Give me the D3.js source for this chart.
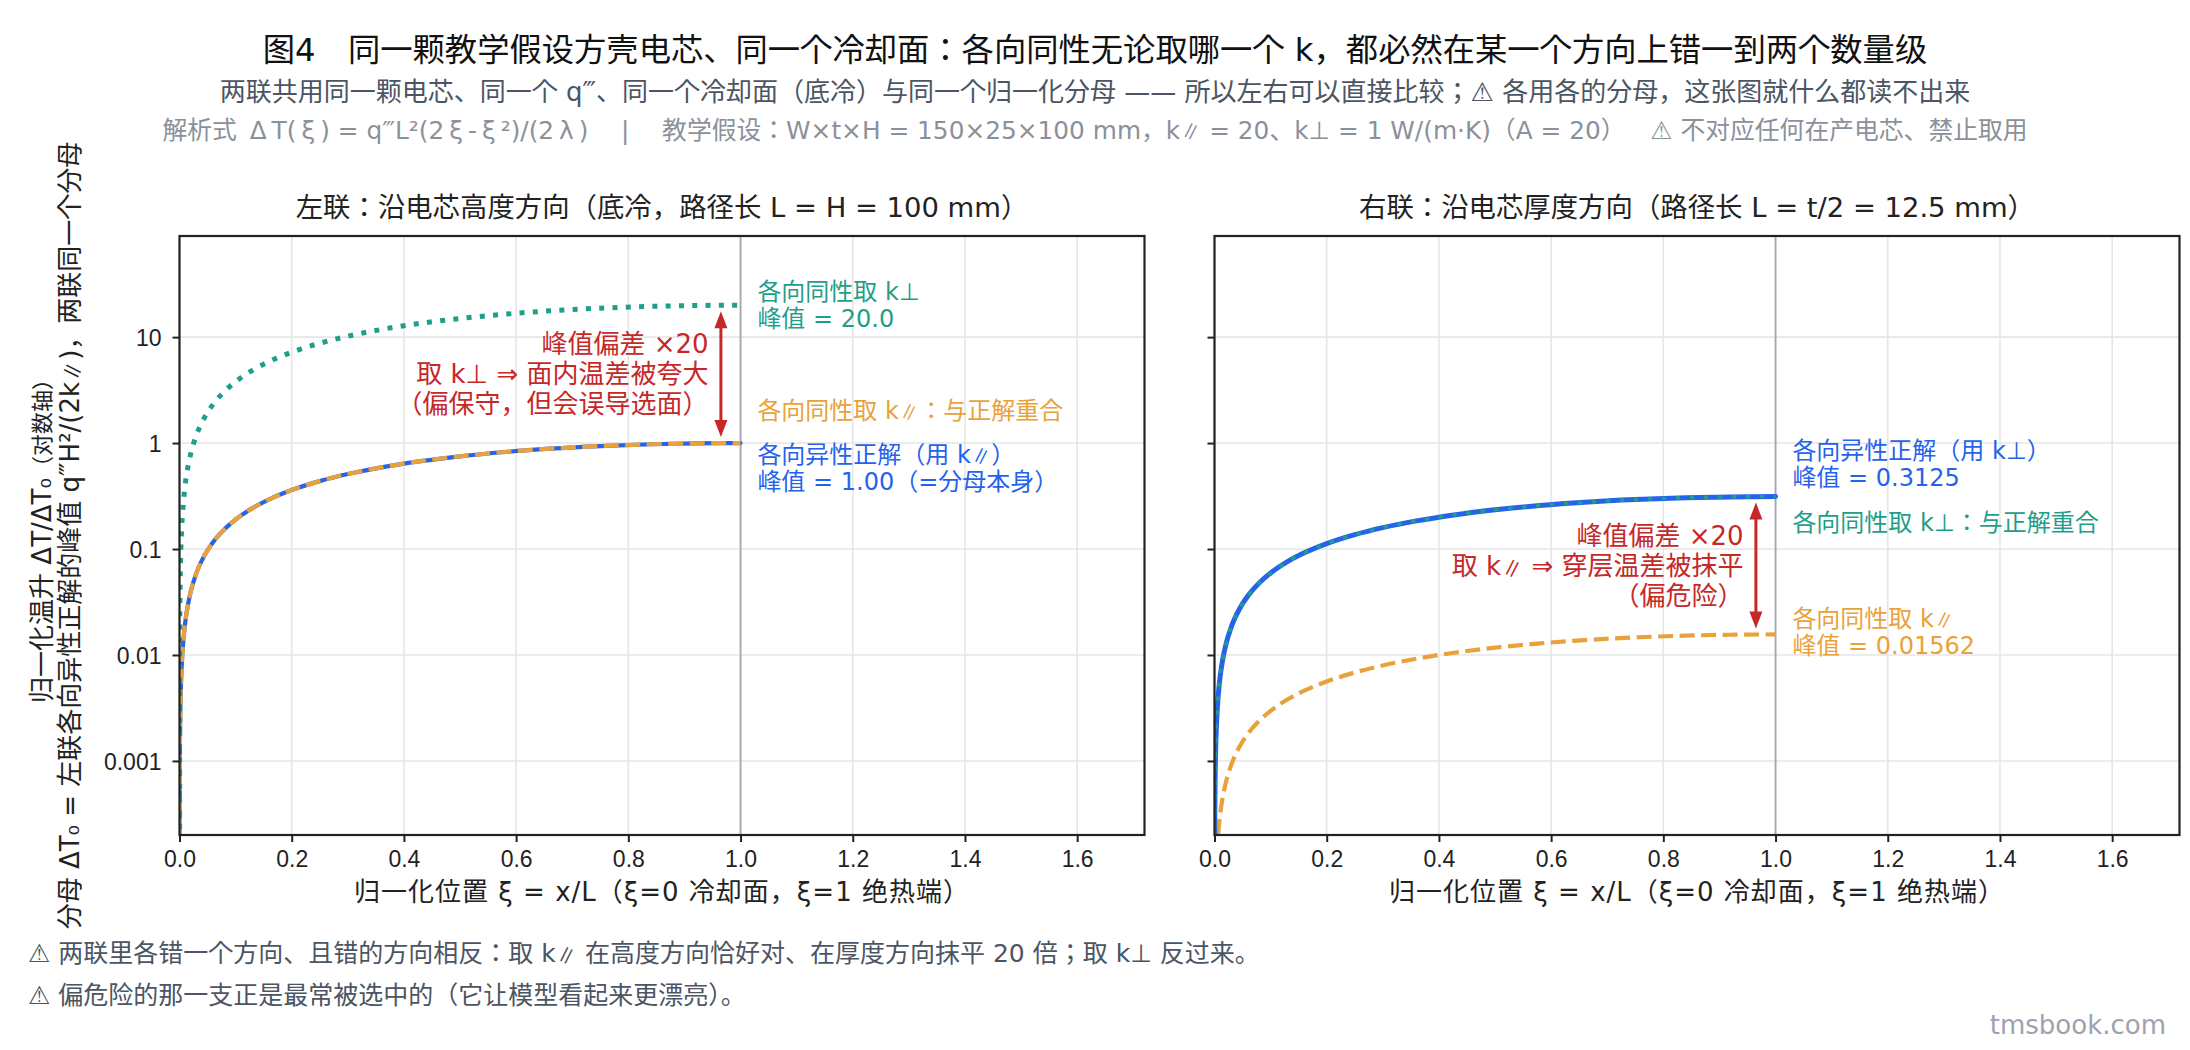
<!DOCTYPE html>
<html>
<head>
<meta charset="utf-8">
<script src="https://cdn.jsdelivr.net/npm/d3@7"></script>
<style>
  body { margin: 0; background: #fff; }
  svg { display: block; font-family: "DejaVu Sans", "Noto Sans CJK JP", "Noto Sans CJK SC", sans-serif; }
</style>
</head>
<body>
<div id="canvas"></div>
<script>
// normalised position ξ = x/L
const xi = [0, 0.0005, 0.001, 0.002, 0.004, 0.007, 0.01, 0.015, 0.02, 0.03, 0.045, 0.06, 0.08, 0.1,
    0.13, 0.16, 0.2, 0.25, 0.3, 0.36, 0.43, 0.5, 0.58, 0.66, 0.75, 0.84, 0.92, 1.0];

// left panel (height direction, L = H)
const leftExact = [0, 0.001, 0.002, 0.003996, 0.007984, 0.013951, 0.0199, 0.029775, 0.0396, 0.0591, 0.087975,
    0.1164, 0.1536, 0.19, 0.2431, 0.2944, 0.36, 0.4375, 0.51, 0.5904, 0.6751, 0.75, 0.8236, 0.8844, 0.9375,
    0.9744, 0.9936, 1.0];
const leftIsoPar = leftExact;
const leftIsoPerp = [0, 0.02, 0.04, 0.0799, 0.1597, 0.279, 0.398, 0.5955, 0.792, 1.182, 1.7595, 2.328, 3.072,
    3.8, 4.862, 5.888, 7.2, 8.75, 10.2, 11.808, 13.502, 15.0, 16.472, 17.688, 18.75, 19.488, 19.872, 20.0];

// right panel (thickness direction, L = t/2)
const rightExact = [0, 0.0003124, 0.0006247, 0.0012488, 0.002495, 0.0043597, 0.0062188, 0.0093047, 0.012375,
    0.0184688, 0.0274922, 0.036375, 0.048, 0.059375, 0.0759688, 0.092, 0.1125, 0.1367188, 0.159375, 0.1845,
    0.2109688, 0.234375, 0.257375, 0.276375, 0.2929688, 0.3045, 0.3105, 0.3125];
const rightIsoPerp = rightExact;
const rightIsoPar = [0, 0.0000156, 0.0000312, 0.0000624, 0.0001248, 0.000218, 0.0003109, 0.0004652, 0.0006188,
    0.0009234, 0.0013746, 0.0018188, 0.0024, 0.0029688, 0.0037984, 0.0046, 0.005625, 0.0068359, 0.0079688,
    0.009225, 0.0105484, 0.0117188, 0.0128688, 0.0138188, 0.0146484, 0.015225, 0.015525, 0.015625];

const xTicks = [0, 0.2, 0.4, 0.6, 0.8, 1.0, 1.2, 1.4, 1.6];
const yTicks = [0.001, 0.01, 0.1, 1, 10];
const yTickLabels = ["0.001", "0.01", "0.1", "1", "10"];

const colors = { exact: "#2563eb", perp: "#1f9e89", par: "#e9a23b", red: "#c62828" };
const cjk = "Noto Sans CJK JP";

const W = 2190, H = 1050;
const plotW = 965, plotH = 599, plotTop = 236;

const svg = d3.select("#canvas").append("svg")
    .attr("width", W)
    .attr("height", H);
svg.append("rect").attr("width", W).attr("height", H).attr("fill", "#fff");

// the slanted ∥ only exists in the CJK font, so it gets its own tspan;
// wideGreek pads Greek letters out to the full-width look of the original
function rich(t, s, wideGreek) {
    s.split(/([∥Δξλ])/).forEach(part => {
        if (!part) return;
        const sp = t.append("tspan").text(part);
        if (part === "∥") sp.attr("font-family", cjk).attr("font-size", "0.85em");
        else if (wideGreek && /[Δξλ]/.test(part)) sp.attr("dx", "0.2em").attr("letter-spacing", "0.2em");
    });
    return t;
}

function label(parent, x, y, s, size, color, anchor, wideGreek) {
    const t = parent.append("text")
        .attr("x", x).attr("y", y)
        .attr("text-anchor", anchor || "start")
        .attr("dominant-baseline", "central")
        .attr("font-size", size)
        .attr("fill", color);
    return rich(t, s, wideGreek);
}

function multiLine(g, x, y, lines, opts) {
    const lh = opts.lineHeight;
    lines.forEach((s, i) => {
        label(g, x, y + (i - (lines.length - 1) / 2) * lh, s, opts.size, opts.color, opts.anchor);
    });
}

// titles
label(svg, W / 2, 50, "图4　同一颗教学假设方壳电芯、同一个冷却面：各向同性无论取哪一个 k，都必然在某一个方向上错一到两个数量级",
    32.3, "#111", "middle");
label(svg, W / 2, 92, "两联共用同一颗电芯、同一个 q‴、同一个冷却面（底冷）与同一个归一化分母 —— 所以左右可以直接比较；⚠ 各用各的分母，这张图就什么都读不出来",
    26, "#4b5563", "middle");
label(svg, W / 2, 130, "解析式 ΔT(ξ) = q‴L²(2ξ-ξ²)/(2λ)\u3000 | \u3000教学假设：W×t×H = 150×25×100 mm，k∥ = 20、k⊥ = 1 W/(m·K)（A = 20）\u3000\u2002⚠ 不对应任何在产电芯、禁止取用",
    24.8, "#8b919b", "middle", true);

const defs = svg.append("defs");

function drawPanel(id, left, title, series, notes, arrow, showYLabels) {
    const g = svg.append("g").attr("transform", `translate(${left}, ${plotTop})`);

    const x = d3.scaleLinear().domain([0, 1.72]).range([0, plotW]);
    const y = d3.scaleLog().domain([2e-4, 90]).range([plotH, 0]);

    defs.append("clipPath").attr("id", "clip" + id)
        .append("rect").attr("width", plotW).attr("height", plotH);

    // grid
    g.append("g").selectAll("line").data(xTicks).enter().append("line")
        .attr("x1", d => x(d)).attr("x2", d => x(d))
        .attr("y1", 0).attr("y2", plotH)
        .attr("stroke", "#e6e6e6").attr("stroke-width", 1.6);
    g.append("g").selectAll("line").data(yTicks).enter().append("line")
        .attr("x1", 0).attr("x2", plotW)
        .attr("y1", d => y(d)).attr("y2", d => y(d))
        .attr("stroke", "#e6e6e6").attr("stroke-width", 1.6);

    // adiabatic end ξ = 1
    g.append("line")
        .attr("x1", x(1)).attr("x2", x(1))
        .attr("y1", 0).attr("y2", plotH)
        .attr("stroke", "#a4a8ae").attr("stroke-width", 1.8);

    const line = d3.line()
        .x((d, i) => x(xi[i]))
        .y(d => d > 0 ? y(d) : plotH + 300)
        .curve(d3.curveMonotoneX);

    const curves = g.append("g").attr("clip-path", `url(#clip${id})`);
    series.forEach(s => {
        curves.append("path")
            .datum(s.values)
            .attr("d", line)
            .attr("fill", "none")
            .attr("stroke", s.color)
            .attr("stroke-width", s.width)
            .attr("stroke-dasharray", s.dash || null)
            .attr("stroke-linecap", s.dash ? "butt" : "round");
    });

    // axes
    const xAxisCall = d3.axisBottom(x)
        .tickValues(xTicks)
        .tickFormat(d3.format(".1f"))
        .tickSize(7)
        .tickPadding(9);
    const xa = g.append("g")
        .attr("class", "x axis")
        .attr("transform", `translate(0, ${plotH})`)
        .call(xAxisCall);

    const yAxisCall = d3.axisLeft(y)
        .tickValues(yTicks)
        .tickFormat((d, i) => showYLabels ? yTickLabels[i] : "")
        .tickSize(7)
        .tickPadding(11);
    const ya = g.append("g")
        .attr("class", "y axis")
        .call(yAxisCall);

    [xa, ya].forEach(a => {
        a.select(".domain").remove();
        a.selectAll(".tick line").attr("stroke", "#222").attr("stroke-width", 2);
        a.selectAll(".tick text")
            .attr("font-size", 23)
            .attr("fill", "#222")
            .attr("font-family", null);
    });
    ya.selectAll(".tick text").attr("dy", "0.36em");

    g.append("rect")
        .attr("width", plotW).attr("height", plotH)
        .attr("fill", "none").attr("stroke", "#222").attr("stroke-width", 2.2);

    // panel title and x label
    label(g, plotW / 2, -29, title, 27.4, "#222", "middle");
    label(g, plotW / 2, plotH + 57, "归一化位置 ξ = x/L（ξ=0 冷却面，ξ=1 绝热端）", 26, "#222", "middle")
        .attr("letter-spacing", 1);

    // curve notes
    notes.forEach(n => {
        multiLine(g, x(n.at[0]), y(n.at[1]), n.lines, {
            size: 24, lineHeight: 27, color: n.color
        });
    });

    // peak deviation arrow
    const ax = x(arrow.x);
    const ya0 = y(arrow.from) - 6, ya1 = y(arrow.to) + 6;
    const headL = 17, headW = 6.5;
    g.append("line")
        .attr("x1", ax).attr("x2", ax)
        .attr("y1", ya0 - headL + 2).attr("y2", ya1 + headL - 2)
        .attr("stroke", colors.red).attr("stroke-width", 3);
    g.append("path")
        .attr("d", `M${ax},${ya1} L${ax - headW},${ya1 + headL} L${ax + headW},${ya1 + headL} Z`)
        .attr("fill", colors.red);
    g.append("path")
        .attr("d", `M${ax},${ya0} L${ax - headW},${ya0 - headL} L${ax + headW},${ya0 - headL} Z`)
        .attr("fill", colors.red);
    multiLine(g, x(arrow.textX), y(Math.sqrt(arrow.from * arrow.to)), arrow.lines, {
        size: 26, lineHeight: 30, color: colors.red, anchor: "end"
    });
}

drawPanel("L", 179.5, "左联：沿电芯高度方向（底冷，路径长 L = H = 100 mm）",
    [
        { values: leftExact, color: colors.exact, width: 4.2 },
        { values: leftIsoPar, color: colors.par, width: 4.2, dash: "15 6.5" },
        { values: leftIsoPerp, color: colors.perp, width: 5, dash: "5 8.3" }
    ],
    [
        { at: [1.03, 20], lines: ["各向同性取 k⊥", "峰值 = 20.0"], color: colors.perp },
        { at: [1.03, 2.0], lines: ["各向同性取 k∥：与正解重合"], color: colors.par },
        { at: [1.03, 0.57], lines: ["各向异性正解（用 k∥）", "峰值 = 1.00（=分母本身）"], color: colors.exact }
    ],
    { x: 0.965, from: 1, to: 20, textX: 0.943,
      lines: ["峰值偏差 ×20", "取 k⊥ ⇒ 面内温差被夸大", "（偏保守，但会误导选面）"] },
    true);

drawPanel("R", 1214.5, "右联：沿电芯厚度方向（路径长 L = t/2 = 12.5 mm）",
    [
        { values: rightIsoPar, color: colors.par, width: 4.2, dash: "15 6.5" },
        { values: rightExact, color: colors.exact, width: 5 },
        { values: rightIsoPerp, color: colors.perp, width: 3.4, dash: "4.5 9.5" }
    ],
    [
        { at: [1.03, 0.625], lines: ["各向异性正解（用 k⊥）", "峰值 = 0.3125"], color: colors.exact },
        { at: [1.03, 0.175], lines: ["各向同性取 k⊥：与正解重合"], color: colors.perp },
        { at: [1.03, 0.0163], lines: ["各向同性取 k∥", "峰值 = 0.01562"], color: colors.par }
    ],
    { x: 0.965, from: 0.015625, to: 0.3125, textX: 0.943,
      lines: ["峰值偏差 ×20", "取 k∥ ⇒ 穿层温差被抹平", "（偏危险）"] },
    false);

// y label, shared by both panels
const yl = svg.append("text")
    .attr("transform", `translate(42, ${plotTop + plotH / 2}) rotate(-90)`)
    .attr("text-anchor", "middle").attr("dominant-baseline", "central")
    .attr("font-size", 26).attr("fill", "#222");
yl.append("tspan").text("归一化温升 ΔT/ΔT₀");
yl.append("tspan").attr("font-size", 22).text("（对数轴）");
rich(svg.append("text")
    .attr("transform", `translate(70, ${plotTop + plotH / 2}) rotate(-90)`)
    .attr("text-anchor", "middle").attr("dominant-baseline", "central")
    .attr("font-size", 26).attr("fill", "#222"),
    "分母 ΔT₀ = 左联各向异性正解的峰值 q‴H²/(2k∥)，两联同一个分母");

// footnotes
label(svg, 28, 953, "⚠ 两联里各错一个方向、且错的方向相反：取 k∥ 在高度方向恰好对、在厚度方向抹平 20 倍；取 k⊥ 反过来。", 25, "#4b5563");
label(svg, 28, 995, "⚠ 偏危险的那一支正是最常被选中的（它让模型看起来更漂亮）。", 25, "#4b5563");

label(svg, 2166, 1025, "tmsbook.com", 26, "#9ca3af", "end");
</script>
</body>
</html>
